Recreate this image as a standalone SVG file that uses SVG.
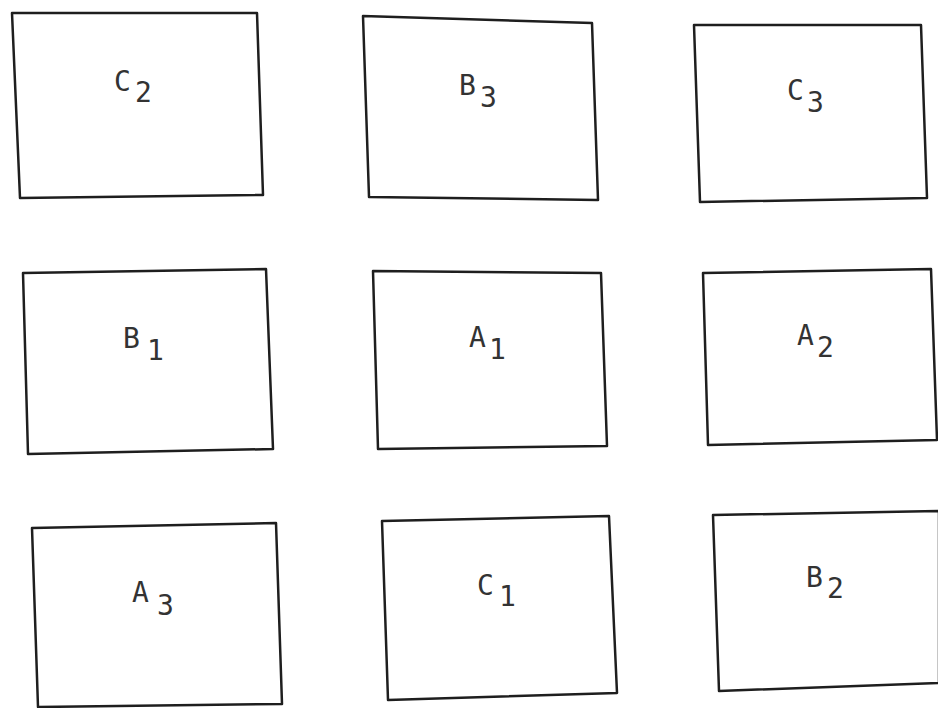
<svg xmlns="http://www.w3.org/2000/svg" width="938" height="708" viewBox="0 0 938 708">
<style>
.box{fill:#fff;stroke:#1e1e1e;stroke-width:2.5;stroke-linejoin:round}
.lbl{font-family:"DejaVu Sans Mono","Liberation Mono",monospace;font-size:28px;fill:#333}
</style>
<rect width="938" height="708" fill="#fff"/>
<g id="connectors"></g>
<g id="C2"><polygon class="box" points="12,13 257,13 263,195 20,198"/><text class="lbl" x="114" y="91">C<tspan x="135" y="102">2</tspan></text></g>
<g id="B3"><polygon class="box" points="363,16 592,23 598,200 369,197"/><text class="lbl" x="459" y="95">B<tspan x="480" y="107">3</tspan></text></g>
<g id="C3"><polygon class="box" points="694,25 921,25 927,198 700,202"/><text class="lbl" x="787" y="100">C<tspan x="807" y="112">3</tspan></text></g>
<g id="B1"><polygon class="box" points="23,273 266,269 273,449 28,454"/><text class="lbl" x="123" y="348">B<tspan x="147" y="360">1</tspan></text></g>
<g id="A1"><polygon class="box" points="373,271 601,273 607,446 378,449"/><text class="lbl" x="469" y="347">A<tspan x="489" y="359">1</tspan></text></g>
<g id="A2"><polygon class="box" points="703,273 931,269 937,440 708,445"/><text class="lbl" x="797" y="345">A<tspan x="817" y="357">2</tspan></text></g>
<g id="A3"><polygon class="box" points="32,528 276,523 282,704 38,707"/><text class="lbl" x="132" y="602">A<tspan x="157" y="615">3</tspan></text></g>
<g id="C1"><polygon class="box" points="382,521 609,516 617,693 388,700"/><text class="lbl" x="477" y="595">C<tspan x="499" y="606">1</tspan></text></g>
<g id="B2"><polygon class="box" points="713,515 939,511 939,683 719,691"/><text class="lbl" x="806" y="587">B<tspan x="827" y="598">2</tspan></text></g>
</svg>
